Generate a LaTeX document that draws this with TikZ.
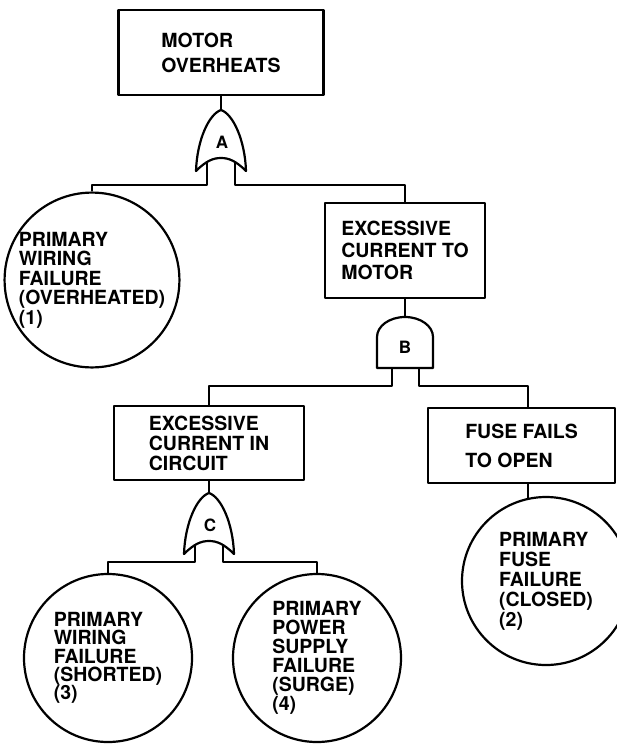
\documentclass[tikz,border=0pt]{standalone}
\usepackage{fontspec}
\setmainfont{TeX Gyre Heros}
\begin{document}
\begin{tikzpicture}[x=1pt,y=-1pt,line width=2.2pt,line join=round,
  box/.style={draw,rectangle,inner sep=0pt,align=left},
  event/.style={draw,circle,inner sep=0pt,minimum size=168pt,align=left},
  txt/.style={font=\bfseries\fontsize{19.5}{#1}\selectfont},
  gatelbl/.style={font=\bfseries\fontsize{17}{17}\selectfont,inner sep=0pt},
  orgate/.pic={
    \draw (-25,61) .. controls (-24,30) and (-12,4) .. (0,0)
          .. controls (12,4) and (24,30) .. (25,61)
          .. controls (15,51) and (8,48) .. (0,48)
          .. controls (-8,48) and (-15,51) .. (-25,61) -- cycle;
    \coordinate (-in) at (0,0);
    \coordinate (-l) at (-14,52);
    \coordinate (-r) at (14,52);
    \node[gatelbl] (-lbl) at (1,32) {#1};
  },
  andgate/.pic={
    \draw (-28,51) -- (-28,20) arc[start angle=180,end angle=360,x radius=28,y radius=20] -- (28,51) -- cycle;
    \coordinate (-in) at (0,0);
    \coordinate (-l) at (-13,51);
    \coordinate (-r) at (14,51);
    \node[gatelbl] (-lbl) at (0,30) {#1};
  }]
\useasboundingbox (0,0) rectangle (617,744);

% events
\node[box,txt=25,minimum width=205pt,minimum height=85pt] (top) at (221,52.5) {MOTOR\\OVERHEATS};
\node[box,txt=22,minimum width=160pt,minimum height=95pt] (b2) at (405,250.5) {EXCESSIVE\\CURRENT TO\\MOTOR};
\node[box,txt=20,minimum width=190pt,minimum height=74pt] (b3) at (209,443) {EXCESSIVE\\CURRENT IN\\CIRCUIT};
\node[box,txt=29,minimum width=187pt,minimum height=75pt] (b4) at (521.5,445.5) {FUSE FAILS\\TO OPEN};

\node[event,txt=19.5] (c1) at (92,280) {PRIMARY\\WIRING\\FAILURE\\(OVERHEATED)\\(1)};
\node[event,txt=20] (c2) at (546,581) {PRIMARY\\FUSE\\FAILURE\\(CLOSED)\\(2)};
\node[event,txt=18.3] (c3) at (108,658) {PRIMARY\\WIRING\\FAILURE\\(SHORTED)\\(3)};
\node[event,txt=19] (c4) at (317,658) {PRIMARY\\POWER\\SUPPLY\\FAILURE\\(SURGE)\\(4)};

% gates
\pic (gA) at (221,110) {orgate=A};
\pic (gB) at (405,317) {andgate=B};
\pic (gC) at (209,493) {orgate=C};

% bus levels
\coordinate (busA) at (0,185);
\coordinate (busB) at (0,386);
\coordinate (busC) at (0,562);
\coordinate (s4) at (528,0);

% connectors
\draw (top.south) -- (gA-in);
\draw (gA-l) -- (gA-l |- busA) -| (c1.north);
\draw (gA-r) -- (gA-r |- busA) -| (b2.north);

\draw (b2.south) -- (gB-in);
\draw (gB-l) -- (gB-l |- busB) -| (b3.north);
\draw (gB-r) -- (gB-r |- busB) -| (b4.north -| s4);

\draw (b3.south) -- (gC-in);
\draw (gC-l) -- (gC-l |- busC) -| (c3.north);
\draw (gC-r) -- (gC-r |- busC) -| (c4.north);

\draw (b4.south -| c2.102) -- (c2.102);
\end{tikzpicture}
\end{document}
